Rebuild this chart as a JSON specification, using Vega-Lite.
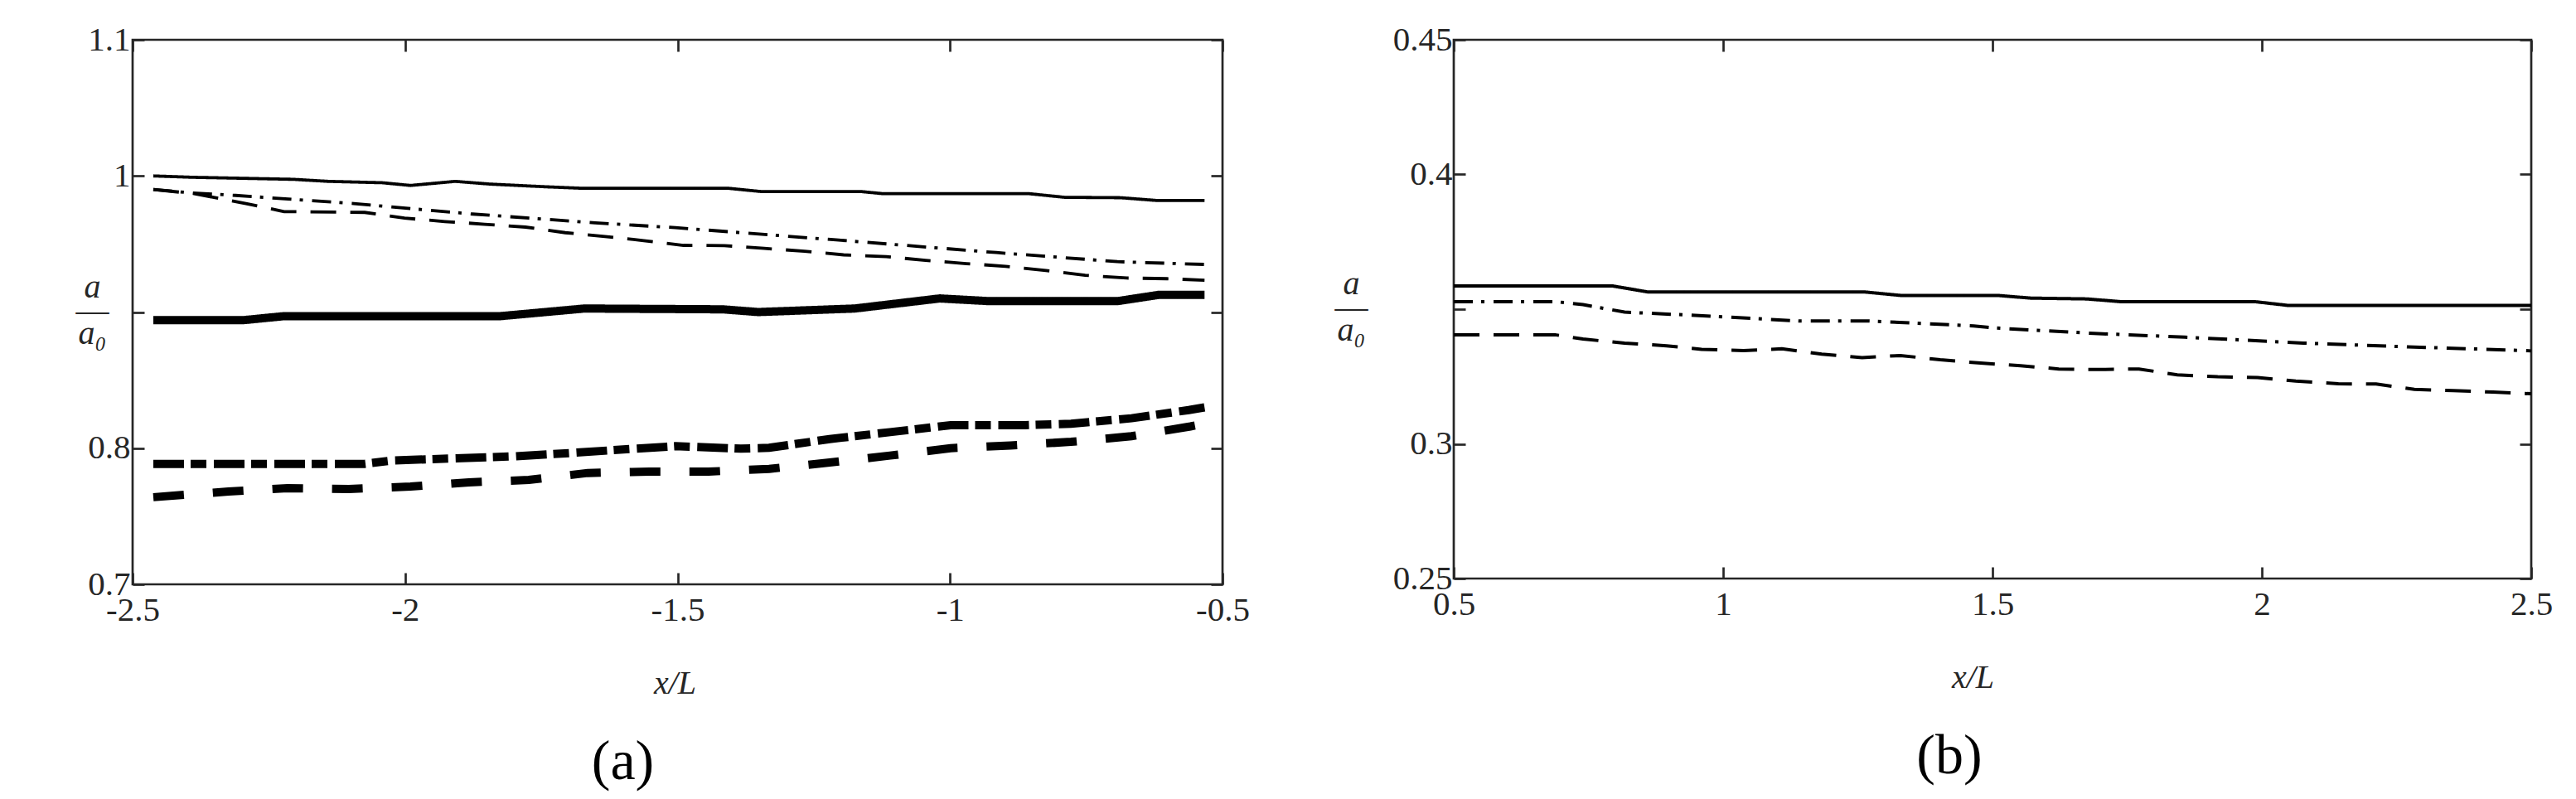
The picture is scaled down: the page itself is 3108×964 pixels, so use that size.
{
  "$schema": "https://vega.github.io/schema/vega-lite/v6.json",
  "padding": {"left": 89, "top": 25, "right": 20, "bottom": 10},
  "background": "white",
  "bounds": "full",
  "align": "none",
  "columns": 2,
  "spacing": 99,
  "config": {
    "font": "Liberation Serif, DejaVu Serif",
    "view": {"stroke": "#262626", "strokeWidth": 2.7},
    "axis": {
      "domain": false, "grid": false,
      "tickColor": "#262626", "tickWidth": 2.7, "tickSize": -14,
      "labelColor": "#262626", "labelFontSize": 41, "labelFont": "Liberation Serif, DejaVu Serif",
      "labelFlush": false, "labelOverlap": false,
      "titleColor": "#262626", "titleFont": "Liberation Serif, DejaVu Serif", "titleFontWeight": "normal"
    }
  },
  "datasets": {
    "left": [
      {"s": "thin-solid", "x": -2.462, "y": 1.000},
      {"s": "thin-solid", "x": -2.390, "y": 0.999},
      {"s": "thin-solid", "x": -2.205, "y": 0.9975},
      {"s": "thin-solid", "x": -2.141, "y": 0.996},
      {"s": "thin-solid", "x": -2.042, "y": 0.995},
      {"s": "thin-solid", "x": -1.990, "y": 0.993},
      {"s": "thin-solid", "x": -1.908, "y": 0.996},
      {"s": "thin-solid", "x": -1.844, "y": 0.994},
      {"s": "thin-solid", "x": -1.741, "y": 0.992},
      {"s": "thin-solid", "x": -1.680, "y": 0.991},
      {"s": "thin-solid", "x": -1.409, "y": 0.991},
      {"s": "thin-solid", "x": -1.346, "y": 0.9885},
      {"s": "thin-solid", "x": -1.163, "y": 0.9885},
      {"s": "thin-solid", "x": -1.124, "y": 0.987},
      {"s": "thin-solid", "x": -0.856, "y": 0.987},
      {"s": "thin-solid", "x": -0.790, "y": 0.9843},
      {"s": "thin-solid", "x": -0.687, "y": 0.984},
      {"s": "thin-solid", "x": -0.622, "y": 0.982},
      {"s": "thin-solid", "x": -0.533, "y": 0.982},

      {"s": "thin-dashdot", "x": -2.462, "y": 0.990},
      {"s": "thin-dashdot", "x": -2.390, "y": 0.9875},
      {"s": "thin-dashdot", "x": -2.311, "y": 0.9857},
      {"s": "thin-dashdot", "x": -2.094, "y": 0.9797},
      {"s": "thin-dashdot", "x": -1.876, "y": 0.972},
      {"s": "thin-dashdot", "x": -1.651, "y": 0.9655},
      {"s": "thin-dashdot", "x": -1.504, "y": 0.962},
      {"s": "thin-dashdot", "x": -1.209, "y": 0.953},
      {"s": "thin-dashdot", "x": -0.915, "y": 0.9437},
      {"s": "thin-dashdot", "x": -0.693, "y": 0.937},
      {"s": "thin-dashdot", "x": -0.533, "y": 0.935},

      {"s": "thin-dash", "x": -2.462, "y": 0.990},
      {"s": "thin-dash", "x": -2.387, "y": 0.987},
      {"s": "thin-dash", "x": -2.292, "y": 0.9797},
      {"s": "thin-dash", "x": -2.222, "y": 0.9738},
      {"s": "thin-dash", "x": -2.074, "y": 0.9732},
      {"s": "thin-dash", "x": -2.001, "y": 0.969},
      {"s": "thin-dash", "x": -1.927, "y": 0.9665},
      {"s": "thin-dash", "x": -1.854, "y": 0.9645},
      {"s": "thin-dash", "x": -1.779, "y": 0.9624},
      {"s": "thin-dash", "x": -1.706, "y": 0.9583},
      {"s": "thin-dash", "x": -1.633, "y": 0.9555},
      {"s": "thin-dash", "x": -1.562, "y": 0.9525},
      {"s": "thin-dash", "x": -1.489, "y": 0.949},
      {"s": "thin-dash", "x": -1.414, "y": 0.9488},
      {"s": "thin-dash", "x": -1.341, "y": 0.9468},
      {"s": "thin-dash", "x": -1.267, "y": 0.9447},
      {"s": "thin-dash", "x": -1.195, "y": 0.942},
      {"s": "thin-dash", "x": -1.117, "y": 0.9407},
      {"s": "thin-dash", "x": -1.045, "y": 0.938},
      {"s": "thin-dash", "x": -0.970, "y": 0.9356},
      {"s": "thin-dash", "x": -0.898, "y": 0.9336},
      {"s": "thin-dash", "x": -0.824, "y": 0.9305},
      {"s": "thin-dash", "x": -0.752, "y": 0.927},
      {"s": "thin-dash", "x": -0.676, "y": 0.925},
      {"s": "thin-dash", "x": -0.602, "y": 0.9245},
      {"s": "thin-dash", "x": -0.533, "y": 0.9234},

      {"s": "thick-solid", "x": -2.462, "y": 0.894},
      {"s": "thick-solid", "x": -2.298, "y": 0.894},
      {"s": "thick-solid", "x": -2.222, "y": 0.897},
      {"s": "thick-solid", "x": -1.825, "y": 0.897},
      {"s": "thick-solid", "x": -1.671, "y": 0.9026},
      {"s": "thick-solid", "x": -1.417, "y": 0.902},
      {"s": "thick-solid", "x": -1.352, "y": 0.900},
      {"s": "thick-solid", "x": -1.175, "y": 0.9026},
      {"s": "thick-solid", "x": -1.019, "y": 0.910},
      {"s": "thick-solid", "x": -0.927, "y": 0.908},
      {"s": "thick-solid", "x": -0.693, "y": 0.908},
      {"s": "thick-solid", "x": -0.616, "y": 0.9127},
      {"s": "thick-solid", "x": -0.533, "y": 0.9127},

      {"s": "thick-dashdot", "x": -2.462, "y": 0.7885},
      {"s": "thick-dashdot", "x": -2.074, "y": 0.7885},
      {"s": "thick-dashdot", "x": -2.022, "y": 0.791},
      {"s": "thick-dashdot", "x": -1.908, "y": 0.7925},
      {"s": "thick-dashdot", "x": -1.799, "y": 0.794},
      {"s": "thick-dashdot", "x": -1.691, "y": 0.7966},
      {"s": "thick-dashdot", "x": -1.575, "y": 0.7997},
      {"s": "thick-dashdot", "x": -1.504, "y": 0.8015},
      {"s": "thick-dashdot", "x": -1.384, "y": 0.7997},
      {"s": "thick-dashdot", "x": -1.332, "y": 0.8003},
      {"s": "thick-dashdot", "x": -1.221, "y": 0.8067},
      {"s": "thick-dashdot", "x": -1.110, "y": 0.8118},
      {"s": "thick-dashdot", "x": -0.999, "y": 0.8169},
      {"s": "thick-dashdot", "x": -0.862, "y": 0.8169},
      {"s": "thick-dashdot", "x": -0.778, "y": 0.818},
      {"s": "thick-dashdot", "x": -0.667, "y": 0.822},
      {"s": "thick-dashdot", "x": -0.562, "y": 0.828},
      {"s": "thick-dashdot", "x": -0.533, "y": 0.830},

      {"s": "thick-dash", "x": -2.462, "y": 0.764},
      {"s": "thick-dash", "x": -2.324, "y": 0.7682},
      {"s": "thick-dash", "x": -2.216, "y": 0.7706},
      {"s": "thick-dash", "x": -2.103, "y": 0.770},
      {"s": "thick-dash", "x": -1.990, "y": 0.7718},
      {"s": "thick-dash", "x": -1.883, "y": 0.7749},
      {"s": "thick-dash", "x": -1.773, "y": 0.7767},
      {"s": "thick-dash", "x": -1.665, "y": 0.7818},
      {"s": "thick-dash", "x": -1.552, "y": 0.7828},
      {"s": "thick-dash", "x": -1.443, "y": 0.7828},
      {"s": "thick-dash", "x": -1.332, "y": 0.7848},
      {"s": "thick-dash", "x": -1.221, "y": 0.7895},
      {"s": "thick-dash", "x": -1.110, "y": 0.7946},
      {"s": "thick-dash", "x": -0.999, "y": 0.800},
      {"s": "thick-dash", "x": -0.889, "y": 0.802},
      {"s": "thick-dash", "x": -0.778, "y": 0.8047},
      {"s": "thick-dash", "x": -0.667, "y": 0.8088},
      {"s": "thick-dash", "x": -0.559, "y": 0.816},
      {"s": "thick-dash", "x": -0.533, "y": 0.818}
    ],
    "right": [
      {"s": "solid", "x": 0.5, "y": 0.3586},
      {"s": "solid", "x": 0.795, "y": 0.3586},
      {"s": "solid", "x": 0.860, "y": 0.3564},
      {"s": "solid", "x": 1.262, "y": 0.3564},
      {"s": "solid", "x": 1.329, "y": 0.3551},
      {"s": "solid", "x": 1.509, "y": 0.3551},
      {"s": "solid", "x": 1.571, "y": 0.3541},
      {"s": "solid", "x": 1.675, "y": 0.3538},
      {"s": "solid", "x": 1.737, "y": 0.3528},
      {"s": "solid", "x": 1.986, "y": 0.3528},
      {"s": "solid", "x": 2.048, "y": 0.3514},
      {"s": "solid", "x": 2.5, "y": 0.3514},

      {"s": "dashdot", "x": 0.5, "y": 0.3528},
      {"s": "dashdot", "x": 0.688, "y": 0.3528},
      {"s": "dashdot", "x": 0.740, "y": 0.3517},
      {"s": "dashdot", "x": 0.817, "y": 0.3489},
      {"s": "dashdot", "x": 0.948, "y": 0.3477},
      {"s": "dashdot", "x": 1.142, "y": 0.3456},
      {"s": "dashdot", "x": 1.271, "y": 0.3456},
      {"s": "dashdot", "x": 1.465, "y": 0.3438},
      {"s": "dashdot", "x": 1.506, "y": 0.343},
      {"s": "dashdot", "x": 1.688, "y": 0.341},
      {"s": "dashdot", "x": 1.857, "y": 0.3396},
      {"s": "dashdot", "x": 2.077, "y": 0.3374},
      {"s": "dashdot", "x": 2.271, "y": 0.336},
      {"s": "dashdot", "x": 2.465, "y": 0.3348},
      {"s": "dashdot", "x": 2.5, "y": 0.3345},

      {"s": "dash", "x": 0.5, "y": 0.3405},
      {"s": "dash", "x": 0.688, "y": 0.3405},
      {"s": "dash", "x": 0.740, "y": 0.3389},
      {"s": "dash", "x": 0.817, "y": 0.3374},
      {"s": "dash", "x": 0.895, "y": 0.3364},
      {"s": "dash", "x": 0.960, "y": 0.3351},
      {"s": "dash", "x": 1.038, "y": 0.3346},
      {"s": "dash", "x": 1.109, "y": 0.3353},
      {"s": "dash", "x": 1.183, "y": 0.3333},
      {"s": "dash", "x": 1.258, "y": 0.332},
      {"s": "dash", "x": 1.329, "y": 0.3328},
      {"s": "dash", "x": 1.403, "y": 0.3312},
      {"s": "dash", "x": 1.478, "y": 0.330},
      {"s": "dash", "x": 1.552, "y": 0.329},
      {"s": "dash", "x": 1.623, "y": 0.3278},
      {"s": "dash", "x": 1.694, "y": 0.3276},
      {"s": "dash", "x": 1.772, "y": 0.3278},
      {"s": "dash", "x": 1.843, "y": 0.3256},
      {"s": "dash", "x": 1.918, "y": 0.3249},
      {"s": "dash", "x": 1.992, "y": 0.3246},
      {"s": "dash", "x": 2.063, "y": 0.3233},
      {"s": "dash", "x": 2.142, "y": 0.3223},
      {"s": "dash", "x": 2.212, "y": 0.3222},
      {"s": "dash", "x": 2.283, "y": 0.3202},
      {"s": "dash", "x": 2.355, "y": 0.3198},
      {"s": "dash", "x": 2.429, "y": 0.3192},
      {"s": "dash", "x": 2.5, "y": 0.3186}
    ]
  },
  "concat": [
    {
      "width": 1315,
      "height": 657,
      "data": {"name": "left"},
      "title": {"text": "(a)", "orient": "bottom", "anchor": "middle", "fontSize": 68, "font": "Liberation Serif, DejaVu Serif", "fontWeight": "normal", "color": "black", "offset": 42, "dx": -66},
      "resolve": {"axis": {"x": "independent", "y": "independent"}},
      "layer": [
        {
          "mark": {"type": "line", "color": "black", "strokeCap": "butt", "strokeJoin": "miter"},
          "encoding": {
            "x": {"field": "x", "type": "quantitative", "scale": {"domain": [-2.5, -0.5], "nice": false, "zero": false},
              "axis": {"orient": "bottom", "values": [-2.5, -2, -1.5, -1, -0.5], "labelPadding": 25, "labelBaseline": "top",
                "labelExpr": "replace(format(datum.value, '~g'), '\u2212', '-')",
                "title": "x/L", "titleFontStyle": "italic", "titleFontSize": 40, "titlePadding": 48, "titleX": 654}},
            "y": {"field": "y", "type": "quantitative", "scale": {"domain": [0.7, 1.1], "nice": false, "zero": false},
              "axis": {"orient": "left", "values": [0.7, 0.8, 0.9, 1, 1.1], "labelPadding": 17,
                "labelExpr": "abs(datum.value - 0.9) < 0.001 ? '' : format(datum.value, '~g')",
                "title": ["a", "\u2015", "a\u2080"], "titleAngle": 0, "titleAlign": "center", "titleBaseline": "middle",
                "titleFontStyle": "italic", "titleFontSize": 40, "titleLineHeight": 28, "titleX": -49, "titleY": 298}},
            "strokeDash": {"field": "s", "type": "nominal", "legend": null,
              "scale": {"domain": ["thin-solid", "thin-dashdot", "thin-dash", "thick-solid", "thick-dashdot", "thick-dash"],
                "range": [[1, 0], [23, 10, 4, 11], [31, 17], [1, 0], [37, 8, 19, 9], [37, 35]]}},
            "strokeWidth": {"field": "s", "type": "nominal", "legend": null,
              "scale": {"type": "ordinal", "domain": ["thin-solid", "thin-dashdot", "thin-dash", "thick-solid", "thick-dashdot", "thick-dash"],
                "range": [3.8, 3.8, 3.8, 10, 10, 10]}}
          }
        },
        {
          "mark": {"type": "line", "opacity": 0},
          "encoding": {
            "x": {"field": "x", "type": "quantitative", "scale": {"domain": [-2.5, -0.5], "nice": false, "zero": false},
              "axis": {"orient": "top", "values": [-2.5, -2, -1.5, -1, -0.5], "labels": false, "title": null}},
            "y": {"field": "y", "type": "quantitative", "scale": {"domain": [0.7, 1.1], "nice": false, "zero": false},
              "axis": {"orient": "right", "values": [0.7, 0.8, 0.9, 1, 1.1], "labels": false, "title": null}},
            "detail": {"field": "s", "type": "nominal"}
          }
        }
      ]
    },
    {
      "width": 1300,
      "height": 650,
      "data": {"name": "right"},
      "title": {"text": "(b)", "orient": "bottom", "anchor": "middle", "fontSize": 68, "font": "Liberation Serif, DejaVu Serif", "fontWeight": "normal", "color": "black", "offset": 42, "dx": -52},
      "resolve": {"axis": {"x": "independent", "y": "independent"}},
      "layer": [
        {
          "mark": {"type": "line", "color": "black", "strokeCap": "butt", "strokeJoin": "miter", "strokeWidth": 4},
          "encoding": {
            "x": {"field": "x", "type": "quantitative", "scale": {"domain": [0.5, 2.5], "nice": false, "zero": false},
              "axis": {"orient": "bottom", "values": [0.5, 1, 1.5, 2, 2.5], "labelPadding": 25, "labelBaseline": "top",
                "labelExpr": "format(datum.value, '~g')",
                "title": "x/L", "titleFontStyle": "italic", "titleFontSize": 40, "titlePadding": 48, "titleX": 626}},
            "y": {"field": "y", "type": "quantitative", "scale": {"domain": [0.25, 0.45], "nice": false, "zero": false},
              "axis": {"orient": "left", "values": [0.25, 0.3, 0.35, 0.4, 0.45], "labelPadding": 16,
                "labelExpr": "abs(datum.value - 0.35) < 0.0001 ? '' : format(datum.value, '~g')",
                "title": ["a", "\u2015", "a\u2080"], "titleAngle": 0, "titleAlign": "center", "titleBaseline": "middle",
                "titleFontStyle": "italic", "titleFontSize": 40, "titleLineHeight": 28, "titleX": -124, "titleY": 294}},
            "strokeDash": {"field": "s", "type": "nominal", "legend": null,
              "scale": {"domain": ["solid", "dashdot", "dash"], "range": [[1, 0], [23, 10, 4, 11], [31, 17]]}}
          }
        },
        {
          "mark": {"type": "line", "opacity": 0},
          "encoding": {
            "x": {"field": "x", "type": "quantitative", "scale": {"domain": [0.5, 2.5], "nice": false, "zero": false},
              "axis": {"orient": "top", "values": [0.5, 1, 1.5, 2, 2.5], "labels": false, "title": null}},
            "y": {"field": "y", "type": "quantitative", "scale": {"domain": [0.25, 0.45], "nice": false, "zero": false},
              "axis": {"orient": "right", "values": [0.25, 0.3, 0.35, 0.4, 0.45], "labels": false, "title": null}},
            "detail": {"field": "s", "type": "nominal"}
          }
        }
      ]
    }
  ]
}
